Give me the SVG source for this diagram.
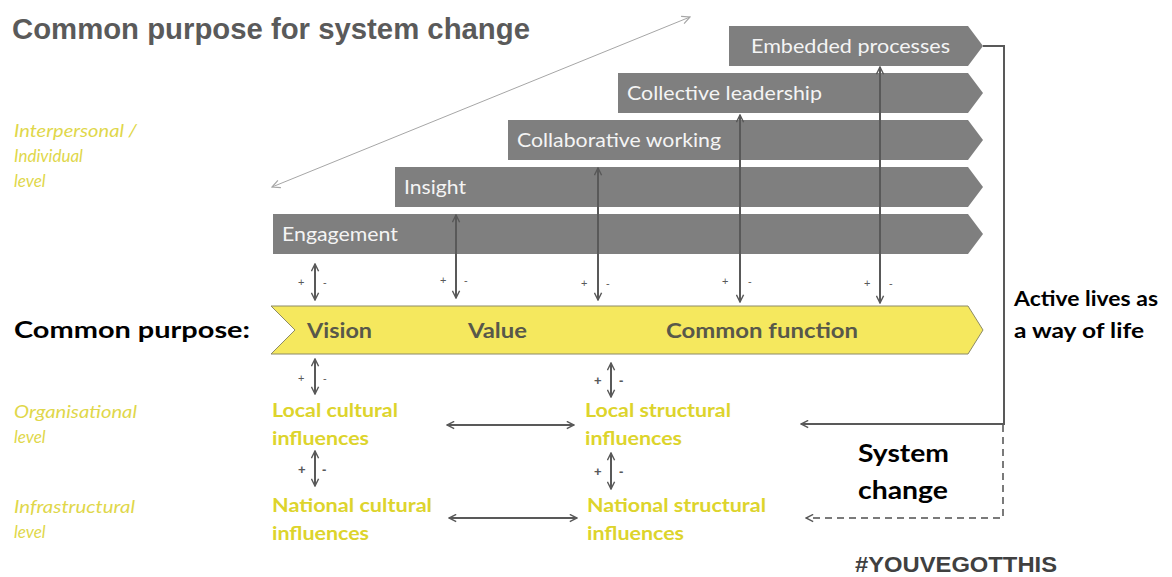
<svg xmlns="http://www.w3.org/2000/svg" width="1172" height="577" viewBox="0 0 1172 577">
<defs>
<marker id="ah" viewBox="0 0 10 10" refX="9" refY="5" markerWidth="9" markerHeight="9" markerUnits="userSpaceOnUse" orient="auto-start-reverse">
<path d="M1,1 L9,5 L1,9" fill="none" stroke="#595959" stroke-width="1.6"/>
</marker>
<marker id="ahl" viewBox="0 0 10 10" refX="9" refY="5" markerWidth="10" markerHeight="10" markerUnits="userSpaceOnUse" orient="auto-start-reverse">
<path d="M1,1 L9,5 L1,9" fill="none" stroke="#a6a6a6" stroke-width="1.2"/>
</marker>
<style>
.bar{fill:#7f7f7f}
.bt{font-family:Lato,"Liberation Sans",sans-serif;font-size:19px;fill:#f4f4f4}
.yt{font-family:Lato,"Liberation Sans",sans-serif;font-weight:bold;font-size:19px;fill:#ddd42c}
.it{font-family:Lato,"Liberation Sans",sans-serif;font-style:italic;font-size:17px;fill:#e0d74a}
.pm{font-family:"Liberation Sans",sans-serif;font-size:11px;fill:#595959}
.pmb{font-family:"Liberation Sans",sans-serif;font-size:13px;font-weight:bold;fill:#595959}
.ar{stroke:#595959;stroke-width:2;fill:none;marker-start:url(#ah);marker-end:url(#ah)}
.bk{font-family:Lato,"Liberation Sans",sans-serif;font-weight:bold;fill:#000}
</style>
</defs>
<rect width="1172" height="577" fill="#fff"/>
<text x="12" y="39" font-family="'Liberation Sans',Arial,sans-serif" font-weight="bold" font-size="29" fill="#5a5a5a" textLength="518" lengthAdjust="spacingAndGlyphs">Common purpose for system change</text>

<g id="labels-left">
<text class="it" x="14" y="137" textLength="123" lengthAdjust="spacingAndGlyphs">Interpersonal /</text>
<text class="it" x="14" y="162">Individual</text>
<text class="it" x="14" y="187">level</text>
<text class="it" x="14" y="418" textLength="123" lengthAdjust="spacingAndGlyphs">Organisational</text>
<text class="it" x="14" y="443">level</text>
<text class="it" x="14" y="513" textLength="121" lengthAdjust="spacingAndGlyphs">Infrastructural</text>
<text class="it" x="14" y="538">level</text>
</g>

<g id="node-embedded"><path class="bar" d="M729,26 H968 L983,46 L968,66 H729 Z"/><text class="bt" x="751" y="53" textLength="199" lengthAdjust="spacingAndGlyphs">Embedded processes</text></g>
<g id="node-collective"><path class="bar" d="M618,73 H968 L983,93 L968,113 H618 Z"/><text class="bt" x="627" y="100" textLength="195" lengthAdjust="spacingAndGlyphs">Collective leadership</text></g>
<g id="node-collaborative"><path class="bar" d="M508,120 H968 L983,140 L968,160 H508 Z"/><text class="bt" x="517" y="147" textLength="204" lengthAdjust="spacingAndGlyphs">Collaborative working</text></g>
<g id="node-insight"><path class="bar" d="M395,167 H968 L983,187 L968,207 H395 Z"/><text class="bt" x="404" y="194" textLength="62" lengthAdjust="spacingAndGlyphs">Insight</text></g>
<g id="node-engagement"><path class="bar" d="M273,214 H968 L983,234 L968,254 H273 Z"/><text class="bt" x="282" y="241" textLength="116" lengthAdjust="spacingAndGlyphs">Engagement</text></g>

<g id="node-common-purpose">
<text class="bk" x="14" y="338" font-size="22" textLength="236" lengthAdjust="spacingAndGlyphs">Common purpose:</text>
<path d="M271,306 H968 L983,330 L968,354 H271 L295,330 Z" fill="#f5e85e" stroke="#8c8a66" stroke-width="1"/>
<g font-family="Lato,'Liberation Sans',sans-serif" font-weight="bold" font-size="21" fill="#58584a">
<text x="307" y="338" textLength="65" lengthAdjust="spacingAndGlyphs">Vision</text>
<text x="468" y="338" textLength="59" lengthAdjust="spacingAndGlyphs">Value</text>
<text x="666" y="338" textLength="192" lengthAdjust="spacingAndGlyphs">Common function</text>
</g>
</g>

<g id="node-local-cultural"><text class="yt" x="272" y="417" textLength="126" lengthAdjust="spacingAndGlyphs">Local cultural</text><text class="yt" x="272" y="445" textLength="97" lengthAdjust="spacingAndGlyphs">influences</text></g>
<g id="node-local-structural"><text class="yt" x="585" y="417" textLength="146" lengthAdjust="spacingAndGlyphs">Local structural</text><text class="yt" x="585" y="445" textLength="97" lengthAdjust="spacingAndGlyphs">influences</text></g>
<g id="node-national-cultural"><text class="yt" x="272" y="512" textLength="160" lengthAdjust="spacingAndGlyphs">National cultural</text><text class="yt" x="272" y="540" textLength="97" lengthAdjust="spacingAndGlyphs">influences</text></g>
<g id="node-national-structural"><text class="yt" x="587" y="512" textLength="179" lengthAdjust="spacingAndGlyphs">National structural</text><text class="yt" x="587" y="540" textLength="97" lengthAdjust="spacingAndGlyphs">influences</text></g>

<g id="node-active-lives"><text class="bk" x="1014" y="306" font-size="20" textLength="144" lengthAdjust="spacingAndGlyphs">Active lives as</text><text class="bk" x="1014" y="338" font-size="20" textLength="130" lengthAdjust="spacingAndGlyphs">a way of life</text></g>
<g id="node-system-change"><text class="bk" x="858" y="462" font-size="24" textLength="91" lengthAdjust="spacingAndGlyphs">System</text><text class="bk" x="858" y="499" font-size="24" textLength="90" lengthAdjust="spacingAndGlyphs">change</text></g>
<g id="node-hashtag"><text x="855" y="572" font-family="'Liberation Sans',sans-serif" font-weight="bold" font-size="22" fill="#404040" textLength="202" lengthAdjust="spacingAndGlyphs">#YOUVEGOTTHIS</text></g>

<g id="connectors">
<line x1="272" y1="187" x2="690" y2="17" stroke="#a6a6a6" stroke-width="1" marker-start="url(#ahl)" marker-end="url(#ahl)"/>
<line class="ar" x1="315" y1="264" x2="315" y2="300"/>
<line class="ar" x1="456" y1="215" x2="456" y2="298"/>
<line class="ar" x1="598" y1="168" x2="598" y2="300"/>
<line class="ar" x1="740" y1="115" x2="740" y2="302"/>
<line class="ar" x1="880" y1="67" x2="880" y2="303"/>
<line class="ar" x1="315" y1="359" x2="315" y2="394"/>
<line class="ar" x1="611" y1="363" x2="611" y2="397"/>
<line class="ar" x1="315" y1="451" x2="315" y2="486"/>
<line class="ar" x1="611" y1="453" x2="611" y2="489"/>
<line class="ar" x1="447" y1="425" x2="574" y2="425"/>
<line class="ar" x1="449" y1="518" x2="577" y2="518"/>
<path d="M983,46 H1004 V424 H801" stroke="#595959" stroke-width="2" fill="none" marker-end="url(#ah)"/>
<path d="M1003,425 V518 H806" stroke="#7a7a7a" stroke-width="2" stroke-dasharray="7,5" fill="none" marker-end="url(#ah)"/>
<g id="plus-minus">
<text class="pm" x="298" y="286">+</text><text class="pm" x="323" y="286">-</text>
<text class="pm" x="440" y="284">+</text><text class="pm" x="464" y="284">-</text>
<text class="pm" x="581" y="287">+</text><text class="pm" x="606" y="287">-</text>
<text class="pm" x="722" y="285">+</text><text class="pm" x="748" y="285">-</text>
<text class="pm" x="864" y="287">+</text><text class="pm" x="889" y="287">-</text>
<text class="pm" x="298" y="382">+</text><text class="pm" x="323" y="382">-</text>
<text class="pmb" x="594" y="385">+</text><text class="pmb" x="619" y="385">-</text>
<text class="pmb" x="298" y="474">+</text><text class="pmb" x="322" y="474">-</text>
<text class="pmb" x="594" y="476">+</text><text class="pmb" x="619" y="476">-</text>
</g>
</g>
</svg>
